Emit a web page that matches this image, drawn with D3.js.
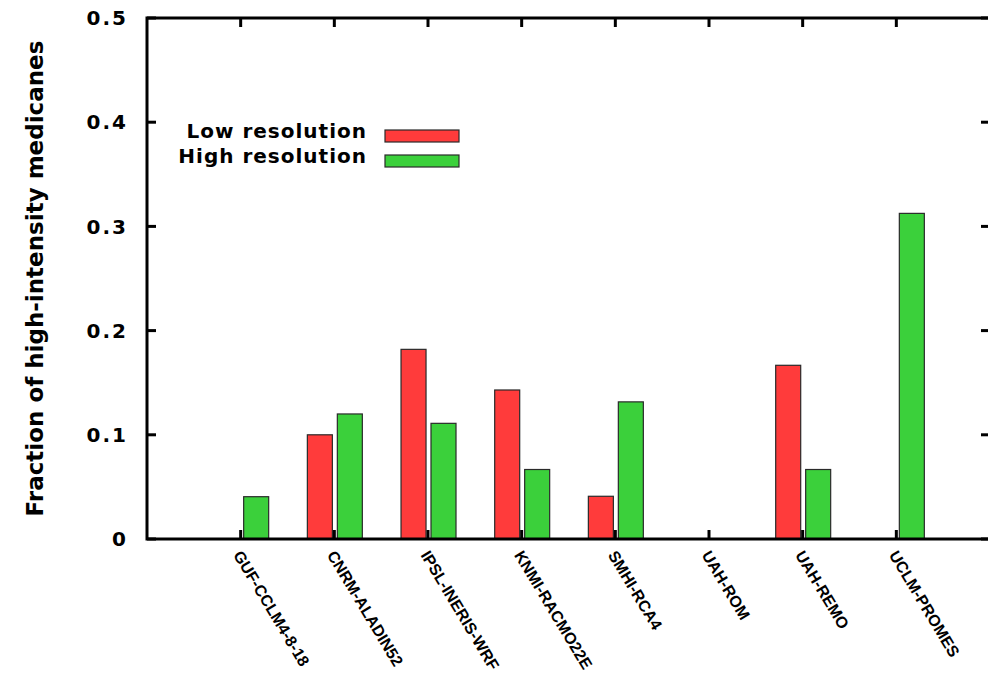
<!DOCTYPE html>
<html>
<head>
<meta charset="utf-8">
<script src="https://cdn.jsdelivr.net/npm/d3@7"></script>
<style>
  body { margin: 0; background: #fff; }
  svg { display: block; }
</style>
</head>
<body>
<div id="chart"></div>
<script>
const models = ["GUF-CCLM4-8-18", "CNRM-ALADIN52", "IPSL-INERIS-WRF", "KNMI-RACMO22E",
                "SMHI-RCA4", "UAH-ROM", "UAH-REMO", "UCLM-PROMES"];
const lowRes = [null, 0.1, 0.182, 0.143, 0.041, null, 0.1667, null];
const highRes = [0.0406, 0.12, 0.111, 0.0667, 0.1316, null, 0.0667, 0.3125];
const yTicks = [0, 0.1, 0.2, 0.3, 0.4, 0.5];
const seriesNames = ["Low resolution", "High resolution"];
const seriesColors = ["#ff3b3b", "#3bd03b"];

const width = 988, height = 683;
const plotLeft = 147, plotRight = 990, plotTop = 18, plotBottom = 539;

const svg = d3.select('#chart')
    .append('svg')
    .attr('width', width)
    .attr('height', height);

const x = d3.scaleLinear().domain([-1, 8]).range([plotLeft, plotRight]);
const y = d3.scaleLinear().domain([0, 0.5]).range([plotBottom, plotTop]);

// bars: red sits left of the tick, green right of it
const bars = [];
models.forEach((m, i) => {
    if (lowRes[i] != null) bars.push({ i, v: lowRes[i], x0: i - 0.288, x1: i - 0.021, c: seriesColors[0] });
    if (highRes[i] != null) bars.push({ i, v: highRes[i], x0: i + 0.032, x1: i + 0.299, c: seriesColors[1] });
});

svg.append('g').selectAll('rect')
    .data(bars)
    .enter()
    .append('rect')
    .attr('x', d => x(d.x0))
    .attr('width', d => x(d.x1) - x(d.x0))
    .attr('y', d => y(d.v))
    .attr('height', d => y(0) - y(d.v))
    .attr('fill', d => d.c)
    .attr('stroke', '#2a2a2a')
    .attr('stroke-width', 1.2);

// frame
svg.append('rect')
    .attr('x', plotLeft).attr('y', plotTop)
    .attr('width', plotRight - plotLeft).attr('height', plotBottom - plotTop)
    .attr('fill', 'none')
    .attr('stroke', '#000')
    .attr('stroke-width', 3);

// inward ticks on all four sides
const tickLen = 9;
const tk = svg.append('g').attr('stroke', '#000').attr('stroke-width', 3);
yTicks.forEach(t => {
    tk.append('line').attr('x1', plotLeft).attr('x2', plotLeft + tickLen).attr('y1', y(t)).attr('y2', y(t));
    tk.append('line').attr('x1', plotRight).attr('x2', plotRight - tickLen).attr('y1', y(t)).attr('y2', y(t));
});
models.forEach((m, i) => {
    tk.append('line').attr('x1', x(i)).attr('x2', x(i)).attr('y1', plotBottom).attr('y2', plotBottom - tickLen);
    tk.append('line').attr('x1', x(i)).attr('x2', x(i)).attr('y1', plotTop).attr('y2', plotTop + tickLen);
});

// y tick labels
svg.append('g').selectAll('text')
    .data(yTicks)
    .enter()
    .append('text')
    .attr('x', 128)
    .attr('y', d => y(d))
    .attr('dy', '0.36em')
    .attr('text-anchor', 'end')
    .style('font-family', 'DejaVu Sans')
    .style('font-weight', 'bold')
    .style('font-size', '20px')
    .style('letter-spacing', '2px')
    .text(d => d === 0 ? '0' : d3.format('.1f')(d));

// y axis title
svg.append('text')
    .attr('transform', `translate(43,${(plotTop + plotBottom) / 2}) rotate(-90)`)
    .attr('text-anchor', 'middle')
    .style('font-family', 'DejaVu Sans')
    .style('font-weight', 'bold')
    .style('font-size', '23px')
    .text('Fraction of high-intensity medicanes');

// x labels, rotated
svg.append('g').selectAll('text')
    .data(models)
    .enter()
    .append('text')
    .attr('transform', (d, i) => `translate(${x(i) - 3},${plotBottom + 13}) rotate(59)`)
    .attr('dy', '0.35em')
    .attr('text-anchor', 'start')
    .style('font-family', 'Liberation Sans, Arial')
    .style('font-weight', 'bold')
    .style('font-size', '16px')
    .text(d => d);

// legend
const legend = svg.append('g');
seriesNames.forEach((name, k) => {
    const ly = 138 + k * 25;
    legend.append('text')
        .attr('x', 367).attr('y', ly)
        .attr('text-anchor', 'end')
        .style('font-family', 'DejaVu Sans')
        .style('font-weight', 'bold')
        .style('font-size', '20px')
        .style('letter-spacing', '1px')
        .text(name);
    legend.append('rect')
        .attr('x', 385).attr('y', ly - 8)
        .attr('width', 74).attr('height', 12)
        .attr('fill', seriesColors[k])
        .attr('stroke', '#2a2a2a')
        .attr('stroke-width', 1.2);
});
</script>
</body>
</html>
